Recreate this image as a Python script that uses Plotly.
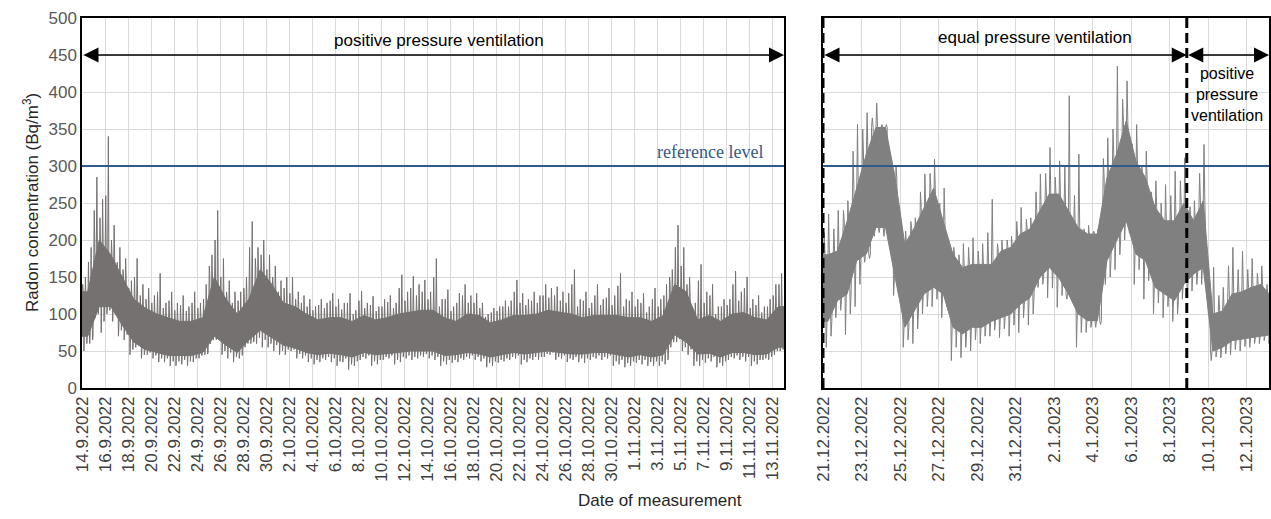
import pandas as pd
import plotly.graph_objects as go

# ---------------- data ----------------
LEFT_START = "2022-09-14"
LEFT_END = "2022-11-14"
RIGHT_START = "2022-12-21"
RIGHT_END = "2023-01-13 04:00"
EQUAL_END = "2023-01-08 21:30"      # switch back to positive pressure
REFERENCE_LEVEL = 300
ARROW_LEVEL = 450

# left period, per half-day: lowest / highest excursions (Bq/m3)
left_low = [50, 60, 95, 75, 100, 90, 70, 65, 45, 55, 40, 45, 40, 35, 35, 30, 30, 32, 30, 35,
            40, 45, 60, 65, 45, 40, 35, 40, 55, 60, 60, 55, 55, 50, 45, 45, 50, 40, 40, 35,
            32, 35, 38, 35, 30, 35, 25, 30, 38, 40, 30, 32, 38, 40, 32, 35, 40, 38, 40, 42,
            40, 38, 30, 32, 34, 35, 38, 40, 38, 36, 28, 30, 34, 36, 38, 40, 32, 35, 38, 38,
            42, 45, 38, 40, 35, 38, 35, 34, 38, 40, 38, 40, 30, 32, 28, 30, 34, 32, 30, 30,
            30, 32, 55, 62, 50, 45, 30, 30, 34, 36, 28, 30, 38, 40, 38, 36, 30, 32, 38, 38, 45, 50]
left_high = [150, 190, 285, 255, 340, 220, 190, 175, 145, 175, 140, 135, 125, 155, 115, 130, 115, 125, 110, 130,
             115, 140, 180, 240, 175, 145, 130, 130, 150, 225, 190, 200, 180, 165, 145, 150, 150, 130, 125, 120,
             110, 120, 115, 128, 120, 115, 128, 105, 131, 115, 124, 110, 120, 125, 115, 153, 130, 151, 140, 146,
             130, 175, 120, 133, 110, 128, 140, 125, 128, 115, 100, 108, 110, 118, 118, 146, 128, 120, 130, 125,
             140, 135, 137, 130, 128, 160, 120, 130, 115, 140, 120, 135, 125, 155, 120, 130, 120, 128, 110, 135,
             120, 140, 160, 220, 190, 150, 115, 167, 130, 140, 110, 120, 120, 158, 130, 150, 120, 125, 110, 120, 140, 155]
# second-largest excursions per half-day
left_low2 = [60, 65, 100, 90, 105, 100, 78, 72, 52, 58, 45, 48, 44, 40, 40, 36, 36, 38, 36, 40,
             44, 46, 65, 68, 50, 48, 42, 44, 60, 62, 68, 65, 60, 58, 50, 52, 52, 46, 44, 40,
             38, 40, 42, 40, 36, 40, 32, 36, 42, 44, 36, 38, 42, 44, 38, 42, 44, 42, 44, 46,
             44, 42, 36, 38, 38, 40, 42, 44, 42, 40, 34, 36, 38, 40, 42, 44, 38, 40, 42, 42,
             46, 48, 42, 44, 40, 42, 40, 40, 42, 44, 42, 44, 36, 38, 34, 36, 38, 38, 35, 36,
             36, 38, 62, 66, 55, 52, 36, 38, 40, 42, 34, 36, 42, 44, 42, 42, 36, 38, 40, 42, 50, 52]
left_high2 = [140, 170, 240, 230, 260, 200, 170, 160, 135, 150, 125, 120, 115, 130, 108, 118, 105, 112, 104, 115,
              108, 120, 165, 200, 150, 130, 115, 118, 135, 190, 175, 180, 160, 150, 130, 135, 128, 120, 115, 110,
              105, 112, 108, 118, 110, 106, 115, 100, 118, 108, 112, 104, 110, 116, 108, 135, 118, 135, 125, 130,
              120, 150, 110, 120, 104, 115, 125, 115, 115, 108, 96, 102, 104, 110, 110, 130, 115, 112, 118, 115,
              125, 122, 125, 118, 115, 140, 110, 118, 108, 125, 112, 122, 112, 138, 110, 118, 110, 115, 102, 120,
              110, 125, 150, 190, 165, 140, 105, 145, 115, 125, 100, 110, 112, 140, 118, 135, 108, 112, 102, 110, 125, 140]
# left period, per day: dense core band
left_core_low = [70, 110, 110, 85, 62, 52, 48, 44, 44, 44,
                 48, 70, 58, 48, 65, 78, 68, 58, 54, 48,
                 45, 47, 45, 42, 48, 45, 46, 48, 50, 50,
                 50, 44, 45, 48, 46, 42, 45, 48, 46, 48,
                 50, 48, 46, 46, 48, 48, 45, 42, 45, 42,
                 45, 72, 62, 46, 47, 42, 48, 48, 45, 46, 55]
left_core_high = [130, 200, 180, 150, 120, 108, 100, 95, 90, 90,
                  95, 150, 120, 100, 120, 160, 140, 115, 110, 100,
                  92, 95, 95, 90, 98, 92, 95, 100, 102, 105,
                  105, 95, 90, 100, 98, 88, 92, 98, 98, 100,
                  105, 102, 100, 95, 98, 98, 98, 95, 95, 90,
                  98, 140, 130, 92, 98, 90, 100, 102, 95, 92, 110]

# right period, per half-day
right_low = [55, 95, 72, 110, 170, 205, 205, 125, 55, 60, 100, 110, 95, 37, 41, 50, 60, 70, 68, 70,
             75, 85, 136, 122, 109, 120, 55, 75, 82, 140, 160, 200, 140, 120, 100, 95, 90, 120,
             131, 140, 37, 41, 45, 50, 55, 60, 60]
right_high = [235, 240, 253, 356, 372, 385, 356, 300, 212, 230, 289, 309, 270, 190, 195, 203, 195, 255,
              200, 205, 244, 230, 289, 325, 307, 395, 316, 220, 215, 338, 435, 415, 356, 320, 280, 275,
              293, 311, 253, 329, 163, 136, 190, 185, 175, 165, 150]
right_low2 = [70, 105, 100, 140, 175, 210, 210, 135, 65, 80, 110, 120, 110, 55, 55, 65, 70, 78, 80, 85,
              95, 100, 140, 135, 125, 122, 75, 82, 86, 150, 180, 210, 160, 145, 115, 110, 100, 125,
              140, 150, 42, 46, 52, 56, 60, 64, 65]
right_high2 = [210, 215, 240, 320, 350, 365, 356, 295, 205, 225, 265, 290, 250, 188, 180, 190, 185, 210,
               195, 200, 225, 228, 265, 290, 285, 300, 260, 215, 212, 310, 350, 390, 330, 300, 265, 250,
               260, 280, 245, 290, 130, 125, 165, 160, 160, 155, 140]
right_core_low = [90, 118, 127, 172, 181, 217, 217, 149, 82, 104, 127, 136, 127, 82, 73, 82, 82, 90,
                  95, 100, 113, 122, 149, 163, 149, 127, 100, 91, 91, 172, 199, 226, 181, 172, 136, 127,
                  118, 140, 154, 163, 50, 55, 64, 66, 68, 70, 72]
right_core_high = [180, 185, 225, 270, 316, 352, 352, 284, 194, 217, 244, 270, 225, 181, 163, 167, 167, 167,
                   185, 190, 208, 215, 239, 262, 262, 239, 217, 208, 208, 284, 316, 361, 307, 284, 244, 226,
                   226, 250, 226, 253, 100, 104, 127, 130, 136, 140, 125]


def core_polygon(start, end, core_low, core_high, step_h):
    """Closed outline of the dense band (points at the middle of each step)."""
    t0 = pd.Timestamp(start)
    ts = [t0 + pd.Timedelta(hours=step_h * (i + 0.5)) for i in range(len(core_low))]
    ts = [t0] + ts + [pd.Timestamp(end) + pd.Timedelta(hours=step_h)]
    hi = [core_high[0]] + list(core_high) + [core_high[-1]]
    lo = [core_low[0]] + list(core_low) + [core_low[-1]]
    return ts + ts[::-1] + [ts[0]], hi + lo[::-1] + [hi[0]]


def spike_line(start, low, high, low2, high2, core_low, core_high, core_per):
    """Thin excursions out of the band: two down and two up per half-day."""
    xs, ys = [], []
    t0 = pd.Timestamp(start)
    for k in range(len(low)):
        c = k // core_per
        base = t0 + pd.Timedelta(hours=12 * k)
        pts = [(0.5, core_high[c]), (1.5, high2[k]), (2.5, core_high[c]),
               (3.0, core_low[c]), (4.0, low[k]), (5.0, core_low[c]),
               (6.0, core_high[c]), (7.0, high[k]), (8.0, core_high[c]),
               (9.0, core_low[c]), (10.0, low2[k]), (11.0, core_low[c])]
        for h, v in pts:
            xs.append(base + pd.Timedelta(hours=h))
            ys.append(v)
    return xs, ys


LEFT_GREY = "#767171"
RIGHT_GREY = "#808080"

fig = go.Figure()
px_, py_ = core_polygon(LEFT_START, LEFT_END, left_core_low, left_core_high, 24)
fig.add_trace(go.Scatter(x=px_, y=py_, mode="lines", fill="toself", fillcolor=LEFT_GREY,
                         line=dict(color=LEFT_GREY, width=1), xaxis="x", yaxis="y",
                         hoverinfo="skip", showlegend=False))
sx, sy = spike_line(LEFT_START, left_low, left_high, left_low2, left_high2,
                    left_core_low, left_core_high, 2)
fig.add_trace(go.Scatter(x=sx, y=sy, mode="lines", line=dict(color=LEFT_GREY, width=1),
                         xaxis="x", yaxis="y", hoverinfo="skip", showlegend=False))

qx, qy = core_polygon(RIGHT_START, RIGHT_END, right_core_low, right_core_high, 12)
fig.add_trace(go.Scatter(x=qx, y=qy, mode="lines", fill="toself", fillcolor=RIGHT_GREY,
                         line=dict(color=RIGHT_GREY, width=1), xaxis="x2", yaxis="y2",
                         hoverinfo="skip", showlegend=False))
rx, ry = spike_line(RIGHT_START, right_low, right_high, right_low2, right_high2,
                    right_core_low, right_core_high, 1)
fig.add_trace(go.Scatter(x=rx, y=ry, mode="lines", line=dict(color=RIGHT_GREY, width=1),
                         xaxis="x2", yaxis="y2", hoverinfo="skip", showlegend=False))

W, H = 1271, 519
ydom = [(H - 388) / H, (H - 18) / H]
DAY = 86400000
tickfont_x = dict(family="Liberation Sans, Arial", size=17, color="#404040")
tickfont_y = dict(family="Liberation Sans, Arial", size=17, color="#595959")
common_x = dict(type="date", tickformat="%-d.%-m.%Y", tickangle=-90, dtick=2 * DAY,
                showgrid=True, gridcolor="#d9d9d9", gridwidth=1, showline=True, mirror=True,
                linecolor="#000000", linewidth=1.5, ticks="", zeroline=False, tickfont=tickfont_x,
                automargin=False)
common_y = dict(range=[0, 500], dtick=50, showgrid=True, gridcolor="#d9d9d9", gridwidth=1,
                showline=True, mirror=True, linecolor="#000000", linewidth=1.5, ticks="",
                zeroline=False, domain=ydom, automargin=False)

fig.update_layout(
    width=W, height=H, margin=dict(l=0, r=0, t=0, b=0, autoexpand=False),
    paper_bgcolor="white", plot_bgcolor="white", showlegend=False,
    xaxis=dict(common_x, domain=[82 / W, 784 / W], range=[LEFT_START, LEFT_END],
               tick0=LEFT_START, anchor="y"),
    yaxis=dict(common_y, anchor="x", tickfont=tickfont_y, showticklabels=True),
    xaxis2=dict(common_x, domain=[823 / W, 1269 / W], range=[RIGHT_START, RIGHT_END],
                tick0=RIGHT_START, anchor="y2"),
    yaxis2=dict(common_y, anchor="x2", showticklabels=False),
)

blue = "#2F5A8A"
shapes = [
    dict(type="line", xref="x domain", yref="y", x0=0, x1=1, y0=REFERENCE_LEVEL, y1=REFERENCE_LEVEL,
         line=dict(color=blue, width=2)),
    dict(type="line", xref="x2 domain", yref="y2", x0=0, x1=1, y0=REFERENCE_LEVEL, y1=REFERENCE_LEVEL,
         line=dict(color=blue, width=2)),
    dict(type="line", xref="x2", yref="y2 domain", x0=RIGHT_START, x1=RIGHT_START, y0=0, y1=1,
         line=dict(color="black", width=3, dash="10px,5px")),
    dict(type="line", xref="x2", yref="y2 domain", x0=EQUAL_END, x1=EQUAL_END, y0=0, y1=1,
         line=dict(color="black", width=3, dash="10px,5px")),
]
fig.update_layout(shapes=shapes)

txt = dict(family="Liberation Sans, Arial", size=17, color="#000000")
arrow_common = dict(text="", showarrow=True, arrowside="end+start", arrowhead=2, startarrowhead=2,
                    arrowsize=2, startarrowsize=2, arrowwidth=1.5, arrowcolor="black",
                    standoff=0, startstandoff=0)
annotations = [
    dict(arrow_common, xref="x", yref="y", axref="x", ayref="y",
         x=LEFT_END, y=ARROW_LEVEL, ax=LEFT_START, ay=ARROW_LEVEL),
    dict(arrow_common, xref="x2", yref="y2", axref="x2", ayref="y2",
         x=EQUAL_END, y=ARROW_LEVEL, ax=RIGHT_START, ay=ARROW_LEVEL),
    dict(arrow_common, xref="x2", yref="y2", axref="x2", ayref="y2",
         x=RIGHT_END, y=ARROW_LEVEL, ax=EQUAL_END, ay=ARROW_LEVEL),
    dict(text="positive pressure ventilation", xref="x", yref="y", x="2022-10-15", y=470,
         showarrow=False, font=txt),
    dict(text="equal pressure ventilation", xref="x2", yref="y2", x="2023-01-01 00:45", y=473,
         showarrow=False, font=txt),
    dict(text="positive<br>pressure<br>ventilation", xref="x2", yref="y2", x="2023-01-11", y=396,
         showarrow=False, font=dict(family="Liberation Sans, Arial", size=16, color="#000000")),
    dict(text="reference level", xref="x domain", yref="y", x=0.973, y=319, xanchor="right",
         showarrow=False, font=dict(family="Liberation Serif, Times New Roman", size=18, color=blue)),
    dict(text="Radon concentration (Bq/m<sup>3</sup>)", xref="paper", yref="paper",
         x=18 / W, y=(H - 203) / H, textangle=-90, showarrow=False,
         font=dict(family="Liberation Sans, Arial", size=17, color="#262626")),
    dict(text="Date of measurement", xref="paper", yref="paper", x=660 / W, y=(H - 512) / H,
         showarrow=False, font=dict(family="Liberation Sans, Arial", size=17, color="#262626")),
]
fig.update_layout(annotations=annotations)

fig.write_html("out.html")
